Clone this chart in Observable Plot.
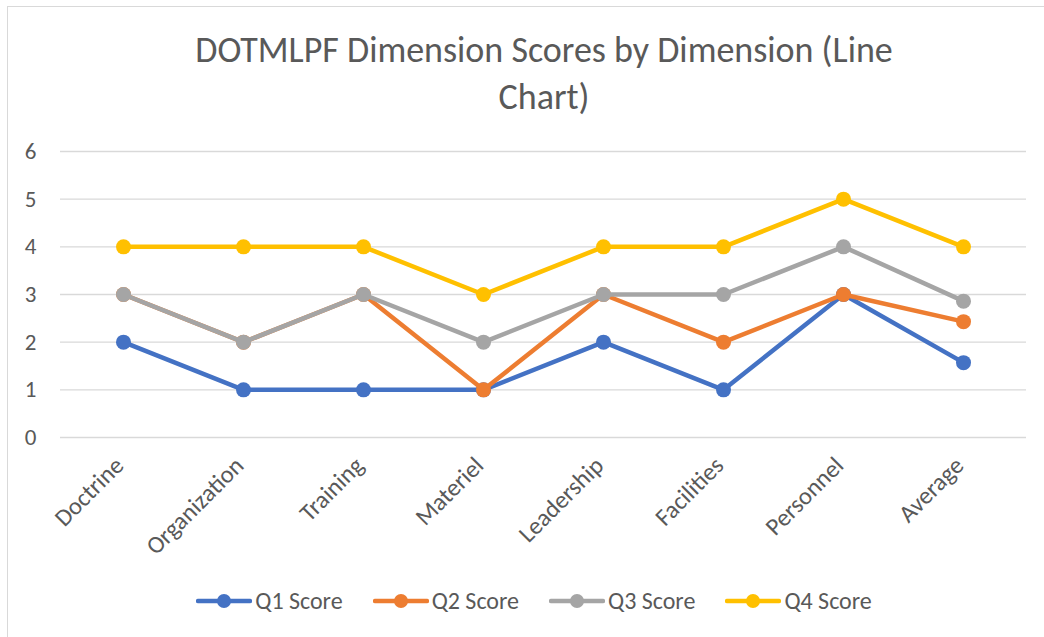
<!DOCTYPE html>
<html>
<head>
<meta charset="utf-8">
<script src="https://cdn.jsdelivr.net/npm/d3@7"></script>
<script src="https://cdn.jsdelivr.net/npm/@observablehq/plot@0.6"></script>
<style>
  html, body { margin: 0; padding: 0; background: #fff; }
  body { width: 1044px; height: 637px; overflow: hidden; position: relative; font-family: Carlito, Calibri, "Open Sans", sans-serif; }
  #frame { position: absolute; left: 7px; top: 6px; width: 1060px; height: 660px; border: 1px solid #d9d9d9; box-sizing: border-box; }
  #title { position: absolute; left: 0; top: 27px; width: 1088px; text-align: center; font-size: 36px; line-height: 47px; color: #595959; }
  #chart { position: absolute; left: 0; top: 120px; }
  #legend { position: absolute; left: 0; top: 586px; width: 1068px; display: flex; justify-content: center; gap: 30px; font-size: 24px; color: #595959; }
  .item { display: flex; align-items: center; gap: 3px; }
</style>
</head>
<body>
<div id="frame"></div>
<div id="title">DOTMLPF Dimension Scores by Dimension (Line<br>Chart)</div>
<div id="chart"></div>
<div id="legend"></div>
<script>
const categories = ["Doctrine", "Organization", "Training", "Materiel", "Leadership", "Facilities", "Personnel", "Average"];
const seriesNames = ["Q1 Score", "Q2 Score", "Q3 Score", "Q4 Score"];
const q1 = [2, 1, 1, 1, 2, 1, 3, 1.57];
const q2 = [3, 2, 3, 1, 3, 2, 3, 2.43];
const q3 = [3, 2, 3, 2, 3, 3, 4, 2.86];
const q4 = [4, 4, 4, 3, 4, 4, 5, 4];
const colors = ["#4472C4", "#ED7D31", "#A5A5A5", "#FFC000"];
const yTicks = [0, 1, 2, 3, 4, 5, 6];

const seriesValues = [q1, q2, q3, q4];
const rows = [];
seriesNames.forEach((s, i) => categories.forEach((c, j) => rows.push({series: s, category: c, value: seriesValues[i][j]})));

const marks = [
  Plot.ruleY(yTicks, {stroke: "#d9d9d9", strokeWidth: 1.3}),
  Plot.axisY(yTicks, {tickSize: 0, tickPadding: 24, fontSize: 23, fill: "#595959", label: null}),
  Plot.axisX({tickSize: 0, tickRotate: -45, tickPadding: 24, dx: -4, fontSize: 24.5, fill: "#595959", label: null})
];
seriesNames.forEach(s => {
  const d = rows.filter(r => r.series === s);
  marks.push(Plot.line(d, {x: "category", y: "value", stroke: "series", strokeWidth: 4.5, strokeLinejoin: "round"}));
  marks.push(Plot.dot(d, {x: "category", y: "value", fill: "series", r: 7.5}));
});

const chart = Plot.plot({
  width: 1044,
  height: 450,
  marginLeft: 60,
  marginRight: 18,
  marginTop: 31,
  marginBottom: 133,
  style: {fontFamily: 'Carlito, Calibri, "Open Sans", sans-serif', fontSize: "23px", background: "transparent", overflow: "visible"},
  x: {type: "point", domain: categories, padding: 0.5},
  y: {domain: [0, 6]},
  color: {domain: seriesNames, range: colors},
  marks
});
document.getElementById("chart").appendChild(chart);

const legend = document.getElementById("legend");
seriesNames.forEach((s, i) => {
  const item = document.createElement("div");
  item.className = "item";
  item.innerHTML = `<svg width="56" height="16"><line x1="2" y1="8" x2="54" y2="8" stroke="${colors[i]}" stroke-width="4.5" stroke-linecap="round"/><circle cx="28" cy="8" r="7" fill="${colors[i]}"/></svg><span>${s}</span>`;
  legend.appendChild(item);
});
</script>
</body>
</html>
